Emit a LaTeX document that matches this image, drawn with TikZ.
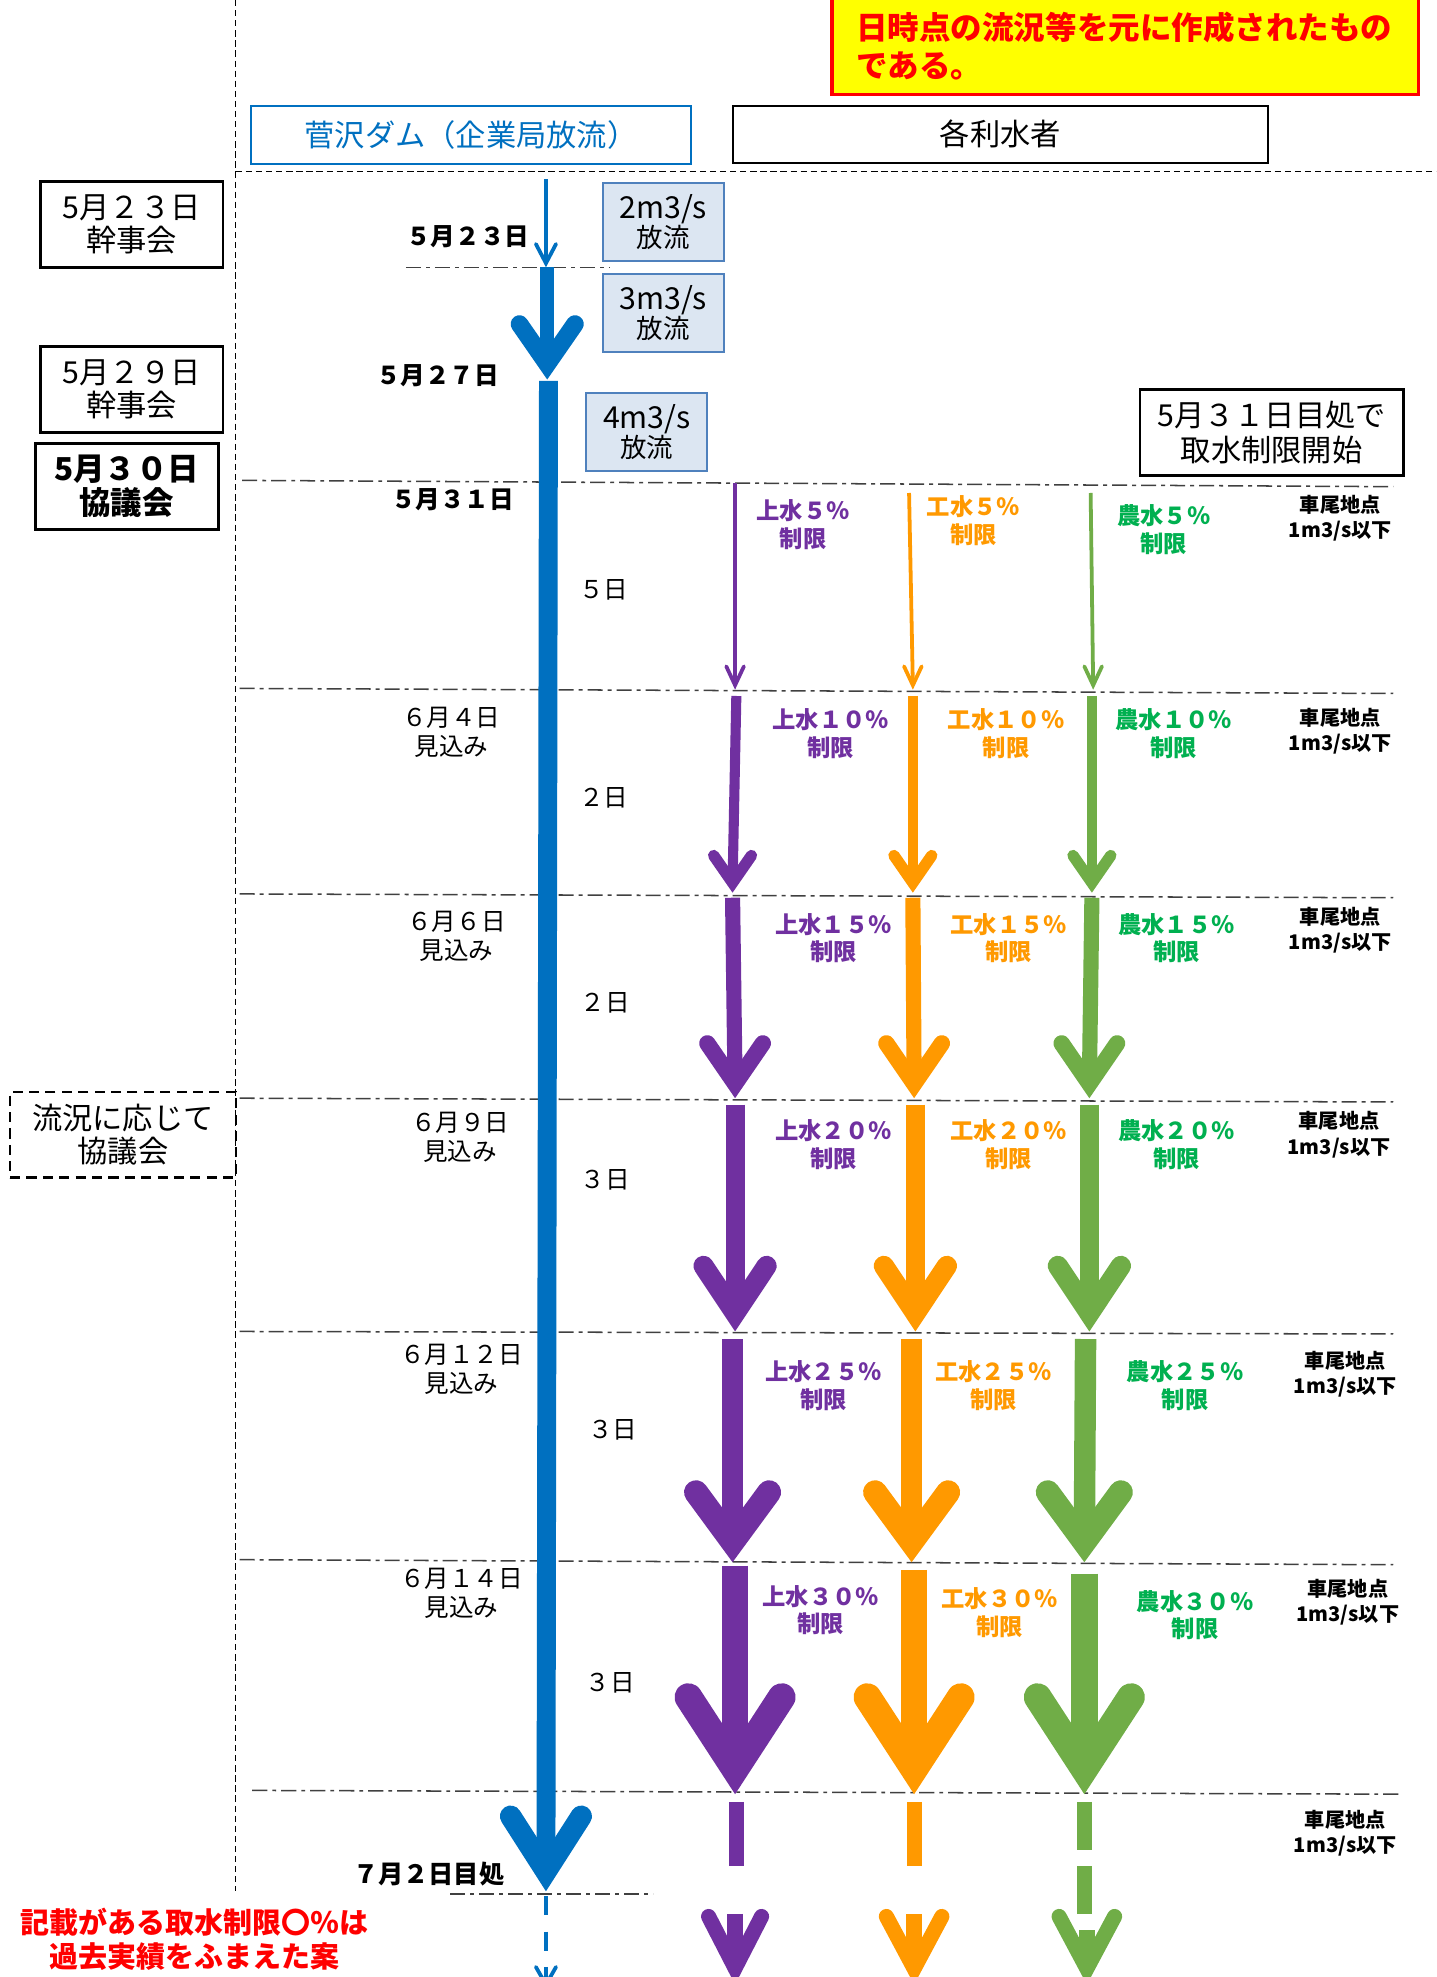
\documentclass[tikz,border=0pt]{standalone}
\usepackage{fontspec}
\setmainfont{Noto Sans CJK JP}
\definecolor{dblue}{HTML}{0070C0}
\definecolor{ppl}{HTML}{7030A0}
\definecolor{org}{HTML}{FF9900}
\definecolor{grn}{HTML}{70AD47}
\definecolor{grntxt}{HTML}{00B050}
\definecolor{fbfill}{HTML}{DCE6F2}
\definecolor{fbdraw}{HTML}{4F81BD}
\definecolor{ylw}{HTML}{FFFF00}
\definecolor{rd}{HTML}{FF0000}
\definecolor{dd}{HTML}{404040}
% #1 colour, #2 x top, #3 y top, #4 x tip, #5 y tip, #6 shaft width, #7 spread, #8 head height, #9 arm width
\newcommand\VArrow[9]{%
  \pgfmathsetmacro\vam{(#9/2)/sin(atan(#7/#8))}%
  \pgfmathsetmacro\vam{(#9/2)/sin(atan(#7/max(#8-\vam-#9/2,1)))}%
  \pgfmathsetmacro\vam{(#9/2)/sin(atan(#7/max(#8-\vam-#9/2,1)))}%
  \pgfmathsetmacro\vam{(#9/2)/sin(atan(#7/max(#8-\vam-#9/2,1)))}%
  \pgfmathsetmacro\vam{(#9/2)/sin(atan(#7/max(#8-\vam-#9/2,1)))}%
  \pgfmathsetmacro\vam{(#9/2)/sin(atan(#7/max(#8-\vam-#9/2,1)))}%
  \pgfmathsetmacro\vvy{#5-\vam}%
  \pgfmathsetmacro\vcy{#5-#8+#9/2}%
  \draw[line width=#6, color=#1] (#2,#3) -- (#4,\vvy);
  \draw[line width=#9, color=#1, line cap=round, line join=miter] (#4-#7,\vcy) -- (#4,\vvy) -- (#4+#7,\vcy);
}
\tikzset{
  lbox/.style={draw, line width=2pt, minimum width=145pt, minimum height=68pt, inner sep=0pt, align=center, font=\fontsize{24}{26}\selectfont},
  fbox/.style={draw=fbdraw, fill=fbfill, line width=1.6pt, minimum width=96pt, minimum height=62pt, inner sep=0pt, align=center},
  datelbl/.style={inner sep=0pt, align=center, font=\fontsize{19.5}{23}\selectfont},
  daylbl/.style={inner sep=0pt, font=\fontsize{19.5}{23}\selectfont},
  rlbl/.style={inner sep=0pt, align=center, font=\fontsize{18.5}{22}\selectfont\bfseries},
  klbl/.style={inner sep=0pt, align=center, font=\fontsize{16}{20}\selectfont\bfseries},
  dashdot/.style={color=dd, line width=1.2pt, dash pattern=on 12pt off 4pt on 3pt off 4pt},
  vsep/.style={line width=1pt, dash pattern=on 5pt off 3pt},
}
\begin{document}
\begin{tikzpicture}[x=1pt,y=-1pt]
\useasboundingbox (0,0) rectangle (1139,1568);
\clip (0,0) rectangle (1139,1568);
\fill[white] (0,0) rectangle (1139,1568);

% separators
\draw[vsep] (187,0) -- (187,1500);
\draw[vsep] (187,136) -- (1139,136);
\draw[dashdot] (322,212) -- (484,212);
\draw[dashdot] (192,381) -- (1105,386);
\draw[dashdot] (190,546) -- (1105,550);
\draw[dashdot] (190,709) -- (1105,712);
\draw[dashdot] (190,871) -- (1105,874);
\draw[dashdot] (190,1056) -- (1105,1058);
\draw[dashdot] (190,1237) -- (1105,1241);
\draw[dashdot] (200,1420) -- (1110,1423);
\draw[dashdot] (357,1502) -- (518,1502);

% yellow note
\node[draw=rd, fill=ylw, line width=3pt, minimum width=465pt, minimum height=90pt, inner sep=0pt] (note) at (892.5,30) {};
\node[anchor=west, inner sep=0pt, text=rd, font=\fontsize{25}{30}\selectfont\bfseries] (note1) at (679,22) {日時点の流況等を元に作成されたもの};
\node[anchor=west, inner sep=0pt, text=rd, font=\fontsize{25}{30}\selectfont\bfseries] (note2) at (679,52) {である。};

% headers
\node[draw=dblue, line width=1.6pt, minimum width=349pt, minimum height=46pt, inner sep=0pt, text=dblue, font=\fontsize{24}{26}\selectfont] (hdam) at (373.5,107) {菅沢ダム（企業局放流）};
\node[draw, line width=1.6pt, minimum width=425pt, minimum height=45pt, inner sep=0pt, font=\fontsize{24}{26}\selectfont] (huser) at (793.5,106.5) {各利水者};

% left meeting boxes
\node[lbox] (k1) at (104.5,178) {5月２３日\\幹事会};
\node[lbox] (k2) at (104.5,309) {5月２９日\\幹事会};
\node[lbox, line width=2.5pt, font=\fontsize{25}{27}\selectfont\bfseries] (k3) at (100.5,386) {5月３０日\\協議会};
\node[lbox, dashed, dash pattern=on 8pt off 5pt, minimum width=179pt] (k4) at (97.5,900) {流況に応じて\\協議会};

% flow boxes
\node[fbox] (f1) at (526,176) {\fontsize{24}{25}\selectfont 2m3/s\\\fontsize{21}{25}\selectfont 放流};
\node[fbox] (f2) at (526,248.5) {\fontsize{24}{25}\selectfont 3m3/s\\\fontsize{21}{25}\selectfont 放流};
\node[fbox] (f3) at (513,342.5) {\fontsize{24}{25}\selectfont 4m3/s\\\fontsize{21}{25}\selectfont 放流};

% start box
\node[lbox, minimum width=209pt, font=\fontsize{24}{28}\selectfont] (start) at (1008.5,343) {5月３１日目処で\\取水制限開始};

% date labels
\node[datelbl, font=\fontsize{19.5}{23}\selectfont\bfseries] (d1) at (371,188) {５月２３日};
\node[datelbl, font=\fontsize{19.5}{23}\selectfont\bfseries] (d2) at (347,298) {５月２７日};
\node[datelbl, font=\fontsize{19.5}{23}\selectfont\bfseries] (d3) at (359,396) {５月３１日};
\node[datelbl] (d4) at (358,581) {６月４日\\見込み};
\node[datelbl] (d5) at (362,743) {６月６日\\見込み};
\node[datelbl] (d6) at (365,902) {６月９日\\見込み};
\node[datelbl] (d7) at (366,1086) {６月１２日\\見込み};
\node[datelbl] (d8) at (366,1264) {６月１４日\\見込み};
\node[datelbl, font=\fontsize{20}{23}\selectfont\bfseries] (d9) at (340,1486) {７月２日目処};
\node[daylbl] (n1) at (479,468) {５日};
\node[daylbl] (n2) at (479,633) {２日};
\node[daylbl] (n3) at (480,795) {２日};
\node[daylbl] (n4) at (480,936) {３日};
\node[daylbl] (n5) at (486,1134) {３日};
\node[daylbl] (n6) at (484,1335) {３日};

% blue release arrows
\VArrow{dblue}{433}{142}{433}{212}{3}{8}{20}{3}
\VArrow{dblue}{434}{212}{434}{301}{11}{22}{51}{14}
\VArrow{dblue}{435}{302}{433}{1500}{15}{28}{68}{17}
\draw[dblue, line width=3pt, dash pattern=on 15pt off 13pt] (433,1504) -- (433,1570);
\draw[dblue, line width=3pt, line cap=round, line join=miter] (425,1560) -- (433,1574) -- (441,1560);

% row 1 (5%)
\VArrow{ppl}{583}{383}{583}{547}{3}{7}{20}{3}
\VArrow{org}{721}{391}{724}{547}{3}{7}{20}{3}
\VArrow{grn}{865}{391}{867}{547}{3}{7}{20}{3}
% row 2 (10%)
\VArrow{ppl}{584}{552}{581}{708}{8}{15}{34}{9}
\VArrow{org}{724}{552}{724}{708}{8}{15}{34}{9}
\VArrow{grn}{866}{552}{866}{708}{8}{15}{34}{9}
% row 3 (15%)
\VArrow{ppl}{581}{712}{583}{871}{12}{22}{50}{13}
\VArrow{org}{724}{712}{725}{871}{12}{22}{50}{13}
\VArrow{grn}{866}{712}{864}{871}{12}{22}{50}{13}
% row 4 (20%)
\VArrow{ppl}{583}{876}{583}{1056}{15}{25}{60}{16}
\VArrow{org}{726}{876}{726}{1056}{15}{25}{60}{16}
\VArrow{grn}{864}{876}{864}{1056}{15}{25}{60}{16}
% row 5 (25%)
\VArrow{ppl}{581}{1062}{581}{1239}{17}{29}{65}{19}
\VArrow{org}{723}{1062}{723}{1239}{17}{29}{65}{19}
\VArrow{grn}{861}{1062}{860}{1239}{17}{29}{65}{19}
% row 6 (30%)
\VArrow{ppl}{583}{1242}{583}{1423}{21}{37}{88}{22}
\VArrow{org}{725}{1245}{725}{1423}{21}{37}{88}{22}
\VArrow{grn}{860}{1248}{860}{1423}{21}{37}{88}{22}
% row 7 (continuation, dashed)
\draw[ppl, line width=12pt] (584,1429) -- (584,1480);
\draw[org, line width=12pt] (725,1429) -- (725,1480);
\draw[grn, line width=12pt] (860,1429) -- (860,1467);
\draw[grn, line width=12pt] (860,1480) -- (860,1518);
\VArrow{ppl}{583}{1518}{583}{1574}{13}{21}{60}{12}
\VArrow{org}{725}{1518}{725}{1574}{13}{22}{60}{12}
\VArrow{grn}{862}{1531}{862}{1574}{13}{22}{60}{12}

% restriction labels
\node[rlbl, text=ppl] (p1) at (637,416) {上水５％\\制限};
\node[rlbl, text=org] (o1) at (772,413) {工水５％\\制限};
\node[rlbl, text=grntxt] (g1) at (923,420) {農水５％\\制限};
\node[rlbl, text=ppl] (p2) at (659,582) {上水１０％\\制限};
\node[rlbl, text=org] (o2) at (798,582) {工水１０％\\制限};
\node[rlbl, text=grntxt] (g2) at (931,582) {農水１０％\\制限};
\node[rlbl, text=ppl] (p3) at (661,744) {上水１５％\\制限};
\node[rlbl, text=org] (o3) at (800,744) {工水１５％\\制限};
\node[rlbl, text=grntxt] (g3) at (933,744) {農水１５％\\制限};
\node[rlbl, text=ppl] (p4) at (661,908) {上水２０％\\制限};
\node[rlbl, text=org] (o4) at (800,908) {工水２０％\\制限};
\node[rlbl, text=grntxt] (g4) at (933,908) {農水２０％\\制限};
\node[rlbl, text=ppl] (p5) at (653,1099) {上水２５％\\制限};
\node[rlbl, text=org] (o5) at (788,1099) {工水２５％\\制限};
\node[rlbl, text=grntxt] (g5) at (940,1099) {農水２５％\\制限};
\node[rlbl, text=ppl] (p6) at (651,1277) {上水３０％\\制限};
\node[rlbl, text=org] (o6) at (793,1279) {工水３０％\\制限};
\node[rlbl, text=grntxt] (g6) at (948,1281) {農水３０％\\制限};

% Kurumao point labels
\node[klbl] (c1) at (1063,411) {車尾地点\\1m3/s以下};
\node[klbl] (c2) at (1063,580) {車尾地点\\1m3/s以下};
\node[klbl] (c3) at (1063,738) {車尾地点\\1m3/s以下};
\node[klbl] (c4) at (1062,900) {車尾地点\\1m3/s以下};
\node[klbl] (c5) at (1067,1090) {車尾地点\\1m3/s以下};
\node[klbl] (c6) at (1069,1271) {車尾地点\\1m3/s以下};
\node[klbl] (c7) at (1067,1454) {車尾地点\\1m3/s以下};

% bottom red note
\node[inner sep=0pt, align=center, text=rd, font=\fontsize{23}{27}\selectfont\bfseries] (foot) at (154,1538) {記載がある取水制限〇％は\\過去実績をふまえた案};
\end{tikzpicture}
\end{document}
